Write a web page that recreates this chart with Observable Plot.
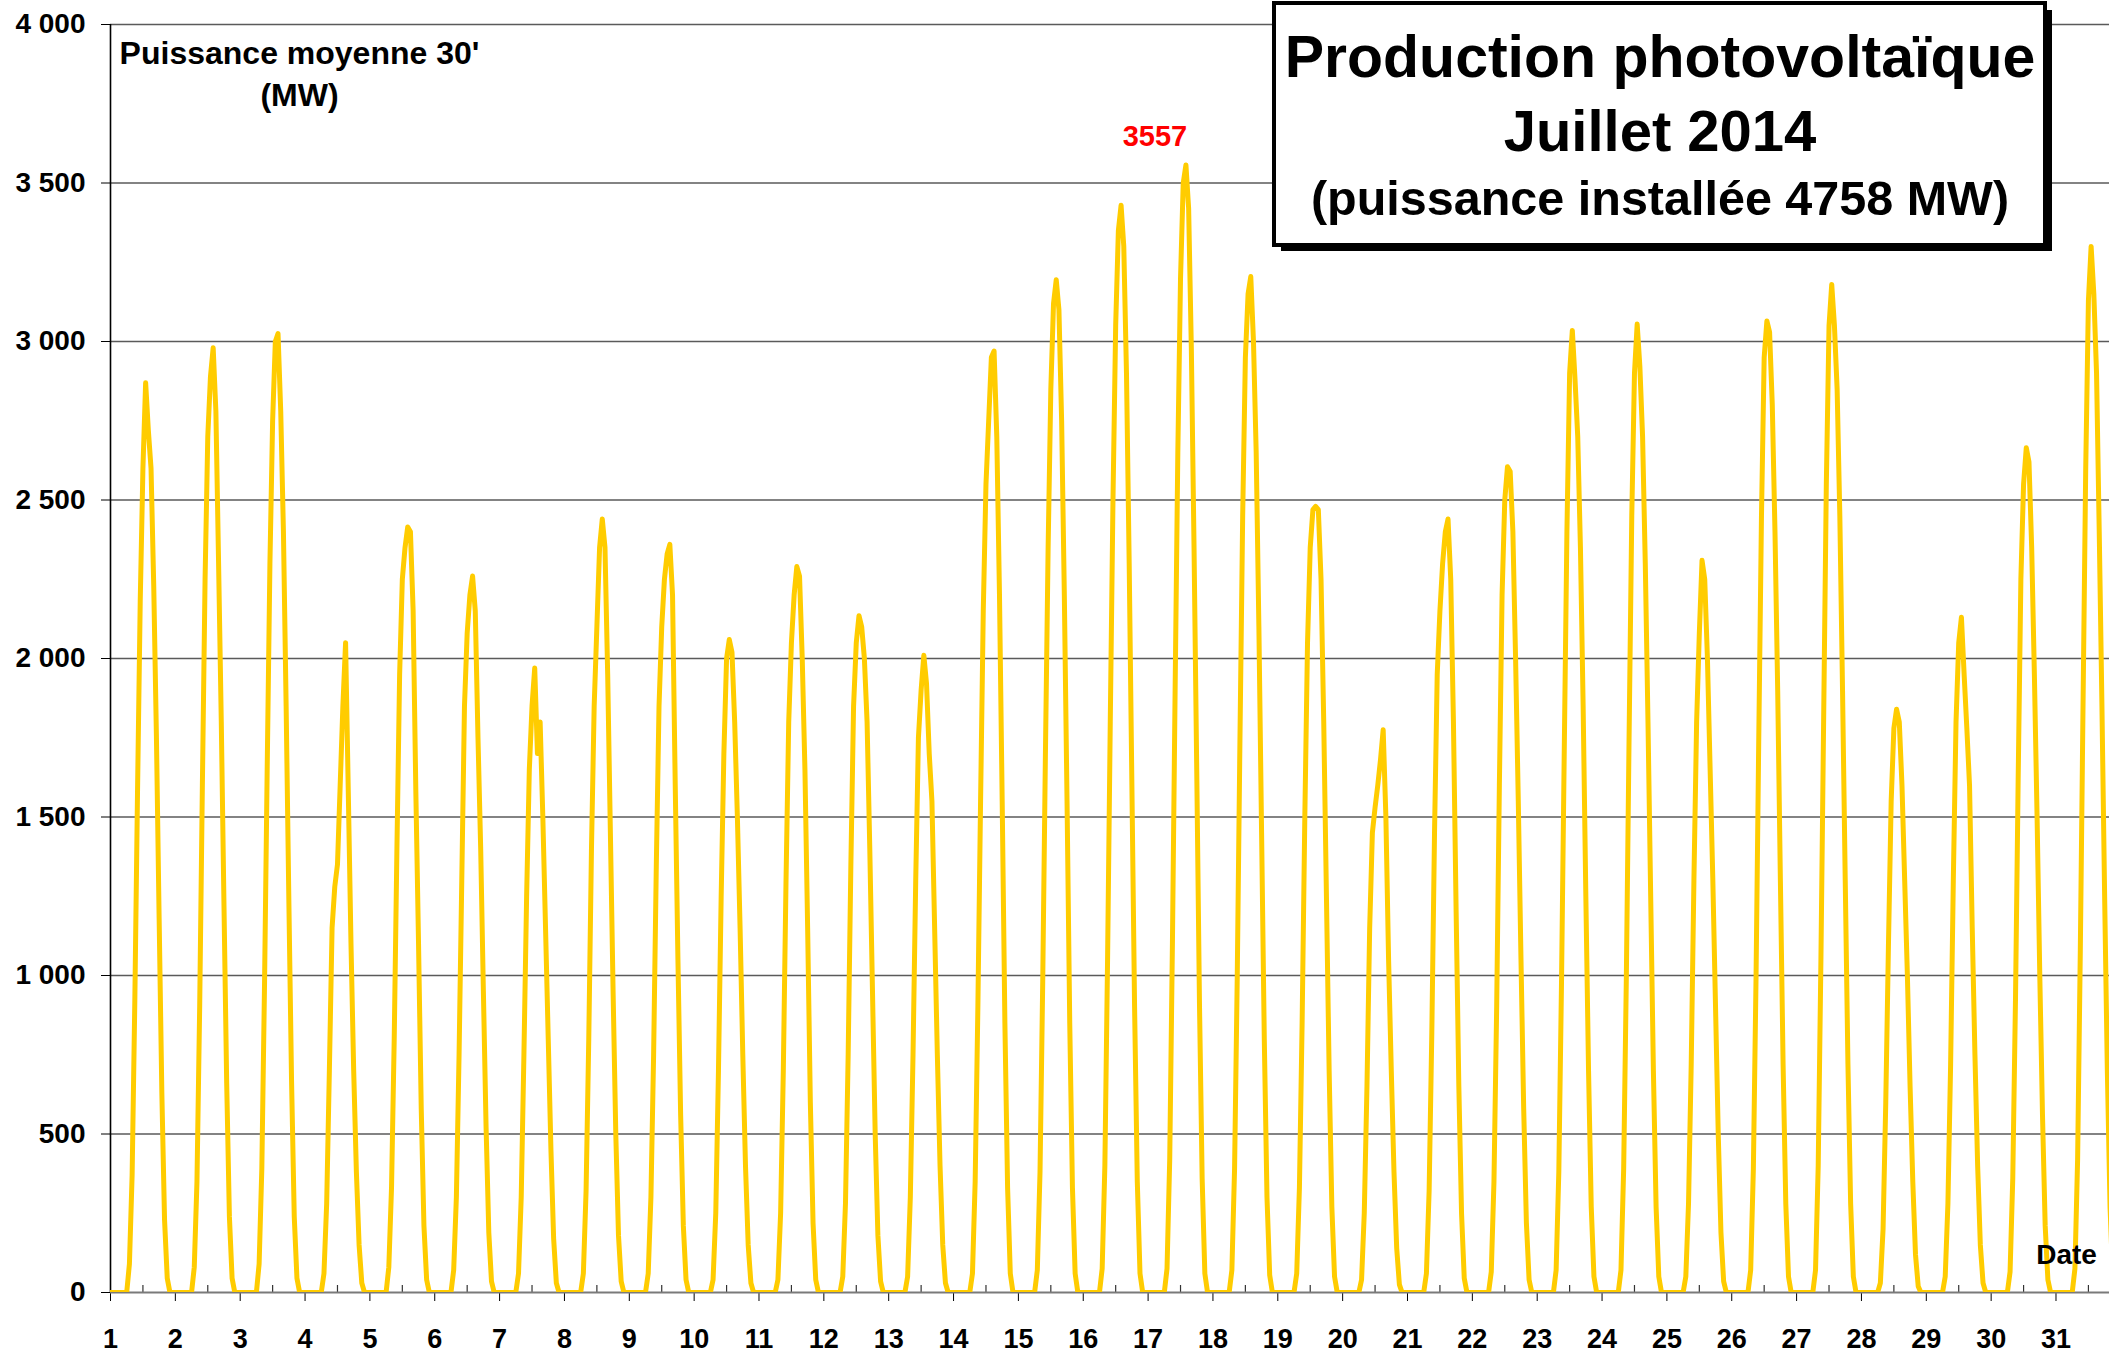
<!DOCTYPE html>
<html><head><meta charset="utf-8">
<script src="https://cdn.jsdelivr.net/npm/d3@7"></script>
<script src="https://cdn.jsdelivr.net/npm/@observablehq/plot@0.6"></script>
<style>
html,body{margin:0;padding:0;background:#fff;}
#chart{position:relative;width:2109px;height:1353px;overflow:hidden;}
</style></head><body><div id="chart"></div>
<script>
// hours of the day at which values are given (0h, then 6h..22h)
const hours = [0, 6, 7, 8, 9, 10, 11, 12, 13, 14, 15, 16, 17, 18, 19, 20, 21, 22];
// Average 30' PV power (MW), one array per day of July 2014
const d01 = [0, 0, 90, 370, 920, 1580, 2180, 2600, 2870, 2720, 2600, 2230, 1750, 1180, 630, 230, 45, 0];
const d02 = [0, 0, 80, 350, 900, 1600, 2250, 2700, 2890, 2980, 2780, 2300, 1800, 1220, 660, 240, 45, 0];
const d03 = [0, 0, 90, 390, 970, 1660, 2300, 2750, 3000, 3025, 2780, 2400, 1850, 1240, 670, 240, 45, 0];
const d04 = [0, 0, 60, 280, 700, 1150, 1280, 1350, 1600, 1850, 2050, 1580, 1100, 700, 380, 150, 30, 0];
const d05 = [0, 0, 80, 330, 800, 1400, 1950, 2250, 2350, 2415, 2400, 2150, 1580, 1100, 580, 210, 40, 0];
const d06 = [0, 0, 70, 300, 750, 1300, 1850, 2080, 2200, 2260, 2150, 1750, 1400, 950, 520, 190, 35, 0];
const d07 = [0, 0, 60, 300, 750, 1250, 1650, 1850, 1970, 1700, 1800, 1500, 1150, 800, 450, 170, 30, 0];
const d08 = [0, 0, 60, 320, 800, 1400, 1850, 2100, 2350, 2440, 2350, 1950, 1450, 950, 500, 180, 35, 0];
const d09 = [0, 0, 60, 300, 750, 1350, 1850, 2100, 2250, 2330, 2360, 2200, 1600, 1050, 560, 210, 40, 0];
const d10 = [0, 0, 40, 250, 700, 1250, 1700, 2000, 2060, 2020, 1800, 1500, 1150, 750, 400, 150, 30, 0];
const d11 = [0, 0, 40, 250, 700, 1300, 1800, 2050, 2200, 2290, 2260, 2000, 1650, 1150, 600, 220, 40, 0];
const d12 = [0, 0, 50, 280, 750, 1350, 1850, 2050, 2135, 2100, 2000, 1800, 1400, 950, 500, 180, 35, 0];
const d13 = [0, 0, 50, 300, 750, 1300, 1750, 1900, 2010, 1920, 1700, 1550, 1150, 750, 400, 150, 30, 0];
const d14 = [0, 0, 60, 350, 900, 1550, 2150, 2550, 2750, 2950, 2970, 2700, 2200, 1550, 850, 330, 60, 0];
const d15 = [0, 0, 70, 380, 980, 1700, 2350, 2850, 3120, 3195, 3100, 2750, 2200, 1550, 850, 330, 60, 0];
const d16 = [0, 0, 75, 400, 1050, 1800, 2500, 3050, 3350, 3430, 3300, 2900, 2300, 1600, 900, 350, 60, 0];
const d17 = [0, 0, 75, 420, 1100, 1900, 2650, 3200, 3500, 3557, 3420, 2980, 2350, 1650, 920, 360, 60, 0];
const d18 = [0, 0, 70, 390, 1000, 1750, 2450, 2950, 3150, 3205, 3000, 2650, 2100, 1450, 800, 300, 55, 0];
const d19 = [0, 0, 60, 330, 850, 1500, 2050, 2350, 2470, 2480, 2470, 2250, 1800, 1250, 700, 270, 50, 0];
const d20 = [0, 0, 40, 250, 650, 1150, 1450, 1530, 1600, 1680, 1775, 1500, 1050, 700, 380, 140, 25, 0];
const d21 = [0, 0, 60, 320, 820, 1450, 1950, 2150, 2300, 2400, 2440, 2250, 1800, 1200, 650, 250, 45, 0];
const d22 = [0, 0, 65, 350, 900, 1600, 2200, 2500, 2605, 2590, 2400, 2000, 1550, 1050, 580, 220, 40, 0];
const d23 = [0, 0, 70, 380, 980, 1700, 2400, 2900, 3035, 2880, 2700, 2350, 1850, 1250, 700, 270, 50, 0];
const d24 = [0, 0, 70, 390, 1000, 1750, 2450, 2900, 3055, 2920, 2700, 2300, 1800, 1250, 700, 270, 50, 0];
const d25 = [0, 0, 50, 280, 720, 1300, 1800, 2080, 2310, 2250, 2000, 1650, 1300, 900, 500, 190, 35, 0];
const d26 = [0, 0, 70, 390, 1000, 1750, 2450, 2950, 3065, 3030, 2800, 2400, 1900, 1300, 720, 280, 50, 0];
const d27 = [0, 0, 70, 400, 1050, 1800, 2550, 3050, 3180, 3050, 2850, 2450, 1900, 1300, 720, 280, 50, 0];
const d28 = [0, 0, 30, 200, 600, 1100, 1550, 1780, 1840, 1800, 1600, 1300, 1000, 650, 350, 120, 20, 0];
const d29 = [0, 0, 50, 280, 720, 1300, 1800, 2050, 2130, 1950, 1780, 1600, 1150, 750, 400, 150, 30, 0];
const d30 = [0, 0, 65, 360, 920, 1620, 2250, 2550, 2665, 2620, 2350, 1950, 1500, 1000, 560, 210, 40, 0];
const d31 = [0, 0, 75, 420, 1080, 1850, 2600, 3130, 3300, 3150, 2900, 2400, 1850, 1250, 700, 270, 50, 0];

const days = [d01,d02,d03,d04,d05,d06,d07,d08,d09,d10,d11,d12,d13,d14,d15,d16,d17,d18,d19,d20,d21,d22,d23,d24,d25,d26,d27,d28,d29,d30,d31];
const xTickLabels = ["1","2","3","4","5","6","7","8","9","10","11","12","13","14","15","16","17","18","19","20","21","22","23","24","25","26","27","28","29","30","31"];
const yTicks = [0, 500, 1000, 1500, 2000, 2500, 3000, 3500, 4000];
const yTickLabels = ["0", "500", "1 000", "1 500", "2 000", "2 500", "3 000", "3 500", "4 000"];
const yLabel = "Puissance moyenne 30'\n(MW)";
const xLabel = "Date";
const titleLines = ["Production photovoltaïque", "Juillet 2014", "(puissance installée 4758 MW)"];

// table for the line
const rows = [];
days.forEach((vals, i) => vals.forEach((v, j) => rows.push({t: i + 1 + hours[j] / 24, mw: v})));
const peak = rows.reduce((a, b) => (b.mw > a.mw ? b : a));
const dayTicks = xTickLabels.map((s, i) => i + 1);
const noonTicks = dayTicks.map(d => d + 0.5);

const FONT = '"Liberation Sans", Arial, Helvetica, sans-serif';

const chart = Plot.plot({
  width: 2109, height: 1353,
  marginLeft: 110, marginRight: 0, marginTop: 24, marginBottom: 61,
  style: {fontFamily: FONT, fontSize: "28px", fontWeight: "bold", color: "#000", background: "#fff", overflow: "visible"},
  x: {domain: [1, 31.825], axis: null},
  y: {domain: [0, 4000], axis: null},
  marks: [
    Plot.ruleY(yTicks.slice(1), {stroke: "#5a5a5a", strokeWidth: 1.3}),
    Plot.axisY({ticks: yTicks, tickFormat: (d, i) => yTickLabels[i], tickSize: 9, tickPadding: 16, stroke: "#000", label: null, fontSize: 28, fontWeight: "bold"}),
    Plot.axisX({ticks: dayTicks, tickFormat: (d, i) => xTickLabels[i], tickSize: 9, tickPadding: 27, stroke: "#000", label: null, fontSize: 27, fontWeight: "bold"}),
    Plot.ruleX(noonTicks, {y1: 0, y2: 0, insetTop: -7, stroke: "#333", strokeWidth: 1.2}),
    Plot.ruleY([0], {stroke: "#7a7a7a", strokeWidth: 2}),
    Plot.ruleX([1], {stroke: "#000", strokeWidth: 1.6}),
    Plot.line(rows, {x: "t", y: "mw", stroke: "#FFCC00", strokeWidth: 5, strokeLinejoin: "round", clip: true}),
    Plot.text([peak], {x: "t", y: "mw", text: d => String(d.mw), fill: "#FF0000", dx: -31, dy: -28, fontSize: 29, fontWeight: "bold"}),
    Plot.text([xLabel], {frameAnchor: "bottom-right", textAnchor: "middle", lineAnchor: "middle", dx: -43, dy: -37, fontSize: 28, fontWeight: "bold"}),
    Plot.text([yLabel], {frameAnchor: "top-left", textAnchor: "middle", lineAnchor: "top", dx: 189, dy: 10, fontSize: 32, fontWeight: "bold", lineHeight: 1.3})
  ]
});
document.getElementById("chart").appendChild(chart);

// title box (shadowed frame)
const svg = d3.select(chart);
const g = svg.append("g").attr("font-family", FONT).attr("font-weight", "bold");
g.append("rect").attr("x", 1281).attr("y", 10).attr("width", 771).attr("height", 241).attr("fill", "#000");
g.append("rect").attr("x", 1274).attr("y", 3).attr("width", 771).attr("height", 242).attr("fill", "#fff").attr("stroke", "#000").attr("stroke-width", 4);
const sizes = [59, 58, 48.5];
const ys = [57, 130, 198];
titleLines.forEach((t, i) => {
  g.append("text").attr("x", 1660).attr("y", ys[i]).attr("text-anchor", "middle").attr("dominant-baseline", "central")
    .attr("font-size", sizes[i]).attr("fill", "#000").text(t);
});
</script>
</body></html>
